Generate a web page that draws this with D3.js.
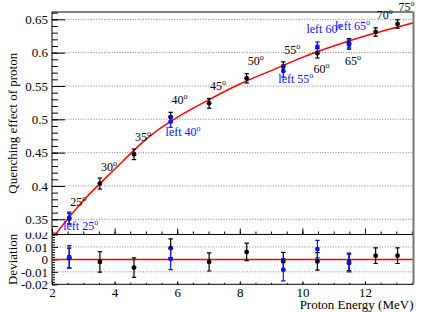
<!DOCTYPE html>
<html>
<head>
<meta charset="utf-8">
<script src="https://cdn.jsdelivr.net/npm/d3@7"></script>
<style>
  body { margin: 0; background: #fff; }
  svg { display: block; font-family: "Liberation Serif", serif; }
</style>
</head>
<body>
<script>
// proton scattering angles and their energies
const angles = [25, 30, 35, 40, 45, 50, 55, 60, 65, 70, 75];
const energy = [2.55, 3.53, 4.62, 5.79, 7.02, 8.22, 9.39, 10.48, 11.49, 12.34, 13.04];
const quench = [0.351, 0.4036, 0.4475, 0.503, 0.524, 0.5615, 0.579, 0.599, 0.614, 0.631, 0.643];
const quenchErr = [0.008, 0.0083, 0.0079, 0.0075, 0.0073, 0.007, 0.0072, 0.007, 0.007, 0.0063, 0.0063];
const deviation = [0.001, -0.002, -0.0066, 0.009, -0.002, 0.006, -0.0016, -0.0016, -0.002, 0.003, 0.003];

// "left" detector points
const leftAngles = [25, 40, 55, 60, 65];
const leftEnergy = [2.55, 5.79, 9.39, 10.48, 11.49];
const leftQuench = [0.352, 0.4965, 0.5725, 0.609, 0.612];
const leftErr = [0.009, 0.0085, 0.009, 0.007, 0.007];
const leftDeviation = [0.002, 0.0003, -0.0083, 0.0083, -0.003];

// fit curve
const fitEnergy = [2.1, 3, 4, 5, 6, 7, 8, 9, 10, 11, 12, 13.55];
const fitQuench = [0.327, 0.378, 0.425, 0.470, 0.503, 0.529, 0.553, 0.573, 0.593, 0.610, 0.625, 0.645];

const xTicks = [2, 4, 6, 8, 10, 12];
const yTicks = [0.35, 0.4, 0.45, 0.5, 0.55, 0.6, 0.65];
const devTicks = [-0.02, -0.01, 0, 0.01, 0.02];

// label offsets (px) from each marker
const blackLabelOffset = {60: [-4, 20], 65: [-4, 22]};
const leftLabelOffset = {25: [-6, 12], 40: [-5, 14], 55: [-5, 12], 60: [-11, -14], 65: [-14, -15]};

const W = 436, H = 313;
const left = 52, right = 413.5;
const top1 = 12, bot1 = 234.5;
const bot2 = 284.3;

const svg = d3.select('body').append('svg')
  .attr('width', W).attr('height', H);

const x = d3.scaleLinear().domain([2, 13.55]).range([left, right]);
const y = d3.scaleLinear().domain([0.3272, 0.661]).range([bot1, top1]);
const yd = d3.scaleLinear().domain([-0.02, 0.02]).range([bot2, bot1]);

const defs = svg.append('defs');
defs.append('clipPath').attr('id', 'clipMain')
  .append('rect').attr('x', left).attr('y', top1).attr('width', right - left).attr('height', bot1 - top1);
defs.append('clipPath').attr('id', 'clipDev')
  .append('rect').attr('x', 0).attr('y', 232.5).attr('width', W).attr('height', H - 232.5);

const fmt = d => d === 0 ? '0' : String(+d.toFixed(2));
const fmtDev = d => d === 0 ? '0' : d.toFixed(2);

// ---------- main panel ----------
const main = svg.append('g');

main.append('g').selectAll('line')
  .data(yTicks).join('line')
  .attr('x1', left).attr('x2', right)
  .attr('y1', d => y(d)).attr('y2', d => y(d))
  .attr('stroke', '#666').attr('stroke-width', 0.8)
  .attr('stroke-dasharray', '1,1.6');

// minor y ticks
main.append('g').attr('transform', `translate(${left},0)`)
  .call(d3.axisLeft(y).tickValues(d3.range(33, 67).map(d => d / 100)).tickSize(-6).tickFormat(''))
  .call(g => g.select('.domain').remove());
main.append('g').attr('transform', `translate(${left},0)`)
  .call(d3.axisLeft(y).tickValues(yTicks).tickSize(-13).tickPadding(4).tickFormat(fmt))
  .call(g => g.select('.domain').remove())
  .call(g => g.selectAll('text').attr('font-size', 13).attr('font-family', 'Liberation Serif').attr('fill', '#000'));

// x ticks along bottom of main panel, pointing up, no labels
main.append('g').attr('transform', `translate(0,${bot1})`)
  .call(d3.axisBottom(x).tickValues(d3.range(2, 13.6, 0.5)).tickSize(-3).tickFormat(''))
  .call(g => g.select('.domain').remove());
main.append('g').attr('transform', `translate(0,${bot1})`)
  .call(d3.axisBottom(x).tickValues(xTicks).tickSize(-6).tickFormat(''))
  .call(g => g.select('.domain').remove());

// fit curve
main.append('path')
  .datum(fitEnergy.map((e, i) => [e, fitQuench[i]]))
  .attr('clip-path', 'url(#clipMain)')
  .attr('fill', 'none').attr('stroke', '#ff0000').attr('stroke-width', 1.5)
  .attr('d', d3.line().x(d => x(d[0])).y(d => y(d[1])).curve(d3.curveNatural));

function errorBars(g, xs, ys, errs, yScale, color) {
  const pts = xs.map((e, i) => ({e, v: ys[i], s: errs[i]}));
  const bars = g.append('g').attr('stroke', color).attr('stroke-width', 1.2);
  bars.selectAll('.v').data(pts).join('line')
    .attr('x1', d => x(d.e)).attr('x2', d => x(d.e))
    .attr('y1', d => yScale(d.v - d.s)).attr('y2', d => yScale(d.v + d.s));
  [-1, 1].forEach(k => {
    bars.selectAll('.c' + k).data(pts).join('line')
      .attr('x1', d => x(d.e) - 2.2).attr('x2', d => x(d.e) + 2.2)
      .attr('y1', d => yScale(d.v + k * d.s)).attr('y2', d => yScale(d.v + k * d.s));
  });
  g.append('g').selectAll('circle').data(pts).join('circle')
    .attr('cx', d => x(d.e)).attr('cy', d => yScale(d.v))
    .attr('r', 2.4).attr('fill', color);
}

errorBars(main, energy, quench, quenchErr, y, '#000');
errorBars(main, leftEnergy, leftQuench, leftErr, y, '#1010ff');

function degreeLabel(g, px, py, prefix, angle, color) {
  const t = g.append('text').attr('x', px).attr('y', py)
    .attr('font-size', 12).attr('fill', color);
  t.append('tspan').text(prefix + angle);
  t.append('tspan').attr('font-size', 8).attr('dy', -5).text('o');
}

const labels = main.append('g');
angles.forEach((a, i) => {
  const off = blackLabelOffset[a] || [1, -13];
  degreeLabel(labels, x(energy[i]) + off[0], y(quench[i]) + off[1], '', a, '#000');
});
leftAngles.forEach((a, i) => {
  const off = leftLabelOffset[a];
  degreeLabel(labels, x(leftEnergy[i]) + off[0], y(leftQuench[i]) + off[1], 'left ', a, '#1010ff');
});

// frame
main.append('path')
  .attr('d', `M${left},${bot1}V${top1}H${right}`)
  .attr('fill', 'none').attr('stroke', '#000').attr('stroke-width', 1);

main.append('text')
  .attr('transform', `translate(17,${(top1 + bot1) / 2}) rotate(-90)`)
  .attr('text-anchor', 'middle').attr('font-size', 13)
  .text('Quenching effect of proton');

// ---------- deviation panel ----------
const dev = svg.append('g').attr('clip-path', 'url(#clipDev)');

dev.append('g').selectAll('line')
  .data([-0.01, 0.01]).join('line')
  .attr('x1', left).attr('x2', right)
  .attr('y1', d => yd(d)).attr('y2', d => yd(d))
  .attr('stroke', '#666').attr('stroke-width', 0.8)
  .attr('stroke-dasharray', '1,1.6');

dev.append('g').attr('transform', `translate(${left},0)`)
  .call(d3.axisLeft(yd).tickValues(d3.range(-20, 21, 2).map(d => d / 1000)).tickSize(-3).tickFormat(''))
  .call(g => g.select('.domain').remove());
dev.append('g').attr('transform', `translate(${left},0)`)
  .call(d3.axisLeft(yd).tickValues(devTicks).tickSize(-6).tickPadding(4).tickFormat(fmtDev))
  .call(g => g.select('.domain').remove())
  .call(g => g.selectAll('text').attr('font-size', 13).attr('font-family', 'Liberation Serif').attr('fill', '#000'));

dev.append('g').attr('transform', `translate(0,${bot2})`)
  .call(d3.axisBottom(x).tickValues(d3.range(2, 13.6, 0.5)).tickSize(-1.5).tickFormat(''))
  .call(g => g.select('.domain').remove());
dev.append('g').attr('transform', `translate(0,${bot2})`)
  .call(d3.axisBottom(x).tickValues(xTicks).tickSize(-3).tickPadding(3).tickFormat(d => d))
  .call(g => g.select('.domain').remove())
  .call(g => g.selectAll('text').attr('font-size', 13).attr('font-family', 'Liberation Serif').attr('fill', '#000'));

dev.append('line')
  .attr('x1', left).attr('x2', right)
  .attr('y1', yd(0)).attr('y2', yd(0))
  .attr('stroke', '#ff0000').attr('stroke-width', 1.5);

errorBars(dev, energy, deviation, quenchErr, yd, '#000');
errorBars(dev, leftEnergy, leftDeviation, leftErr, yd, '#1010ff');

dev.append('path')
  .attr('d', `M${left},${bot1}V${bot2}H${right}`)
  .attr('fill', 'none').attr('stroke', '#000').attr('stroke-width', 1);
svg.append('line')
  .attr('x1', left).attr('x2', right).attr('y1', bot1).attr('y2', bot1)
  .attr('stroke', '#000').attr('stroke-width', 1);
svg.append('line')
  .attr('x1', right).attr('x2', right).attr('y1', top1).attr('y2', bot2)
  .attr('stroke', '#777').attr('stroke-width', 2);

dev.append('text')
  .attr('transform', `translate(17,${(bot1 + bot2) / 2}) rotate(-90)`)
  .attr('text-anchor', 'middle').attr('font-size', 13)
  .text('Deviation');

svg.append('text')
  .attr('x', right).attr('y', 309)
  .attr('text-anchor', 'end').attr('font-size', 13)
  .text('Proton Energy (MeV)');
</script>
</body>
</html>
